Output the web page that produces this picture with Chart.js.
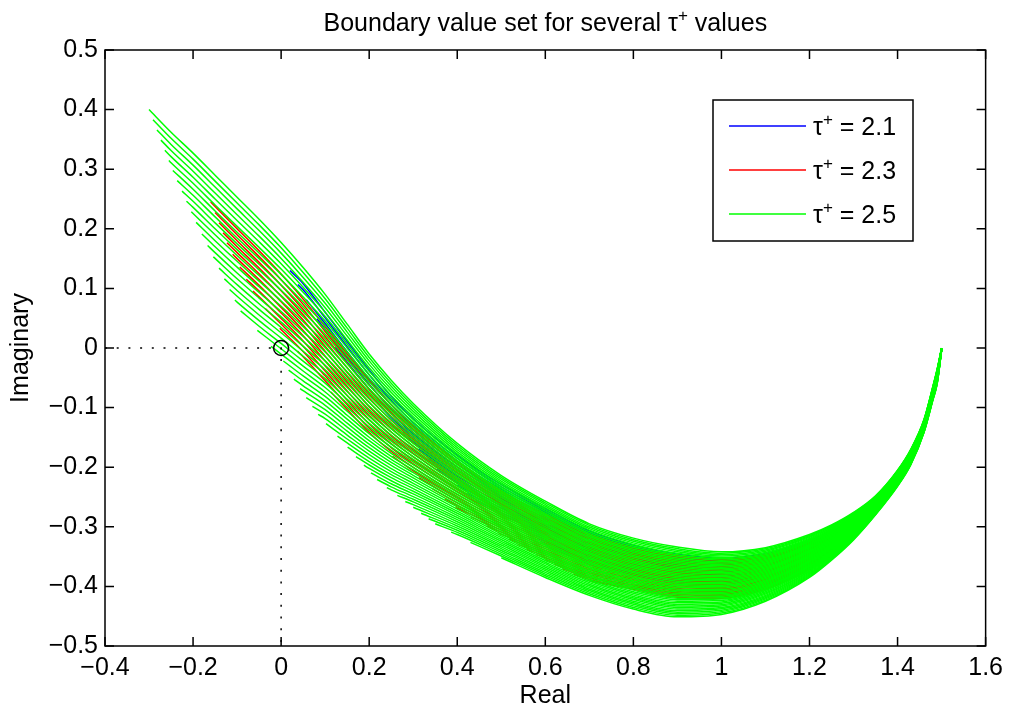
<!DOCTYPE html>
<html>
<head>
<meta charset="utf-8">
<script src="https://cdn.jsdelivr.net/npm/chart.js@4.4.0/dist/chart.umd.min.js"></script>
<style>
  html, body { margin: 0; padding: 0; background: #fff; }
  #wrap { width: 1010px; height: 713px; position: relative; }
</style>
</head>
<body>
<div id="wrap"><canvas id="myChart"></canvas></div>
<script>
// axis ticks
const xTicks = [-0.4, -0.2, 0, 0.2, 0.4, 0.6, 0.8, 1, 1.2, 1.4, 1.6];
const xTickLabels = ['\u22120.4', '\u22120.2', '0', '0.2', '0.4', '0.6', '0.8', '1', '1.2', '1.4', '1.6'];
const yTicks = [-0.5, -0.4, -0.3, -0.2, -0.1, 0, 0.1, 0.2, 0.3, 0.4, 0.5];
const yTickLabels = ['\u22120.5', '\u22120.4', '\u22120.3', '\u22120.2', '\u22120.1', '0', '0.1', '0.2', '0.3', '0.4', '0.5'];

// one set of curves per tau value
const tauValues = ['2.1', '2.3', '2.5'];
const tauColors = ['#0000ff', '#ff0000', '#00ff00'];
const curveCounts = [20, 30, 46];

// tau = 2.1 : first curve, last curve, and the edge where the curves begin
const blueX = [0.02, 0.05, 0.1, 0.15, 0.2, 0.25, 0.3, 0.4, 0.5, 0.6, 0.7, 0.8, 0.9, 1.0, 1.1, 1.2, 1.25, 1.3, 1.35, 1.4, 1.43, 1.46, 1.48, 1.49, 1.5];
const blueFirstY = [0.13, 0.108, 0.06, 0.011, -0.037, -0.081, -0.119, -0.18, -0.229, -0.269, -0.307, -0.331, -0.346, -0.352, -0.345, -0.323, -0.307, -0.285, -0.256, -0.211, -0.176, -0.125, -0.069, -0.038, -0.001];
const blueLastY = [-0.07, -0.087, -0.12, -0.154, -0.187, -0.216, -0.239, -0.275, -0.304, -0.331, -0.362, -0.381, -0.394, -0.397, -0.385, -0.355, -0.334, -0.306, -0.27, -0.221, -0.185, -0.133, -0.078, -0.048, -0.003];
const blueEdgeX = [0.02, 0.08, 0.15, 0.25, 0.35, 0.45, 0.55, 0.6];
const blueEdgeY = [0.13, 0.05, -0.03, -0.12, -0.2, -0.26, -0.3, -0.331];

// tau = 2.3
const redX = [-0.16, -0.1, -0.05, 0, 0.05, 0.1, 0.15, 0.2, 0.25, 0.3, 0.4, 0.5, 0.6, 0.7, 0.8, 0.9, 1.0, 1.1, 1.2, 1.25, 1.3, 1.35, 1.4, 1.43, 1.46, 1.48, 1.49, 1.5];
const redFirstY = [0.245, 0.2, 0.163, 0.124, 0.082, 0.036, -0.01, -0.055, -0.095, -0.13, -0.19, -0.24, -0.279, -0.313, -0.335, -0.348, -0.354, -0.347, -0.325, -0.309, -0.288, -0.259, -0.214, -0.178, -0.126, -0.07, -0.04, -0.001];
const redLastY = [-0.055, -0.09, -0.117, -0.146, -0.173, -0.204, -0.235, -0.265, -0.285, -0.3, -0.325, -0.345, -0.367, -0.391, -0.405, -0.418, -0.42, -0.405, -0.372, -0.348, -0.318, -0.278, -0.228, -0.192, -0.138, -0.083, -0.055, -0.003];
const redEdgeX = [-0.16, -0.12, -0.06, 0.02, 0.12, 0.25, 0.4, 0.55, 0.65, 0.7];
const redEdgeY = [0.245, 0.17, 0.09, 0.01, -0.08, -0.18, -0.27, -0.335, -0.375, -0.391];

// tau = 2.5
const greenX = [-0.3, -0.25, -0.2, -0.15, -0.1, -0.05, 0, 0.05, 0.1, 0.15, 0.2, 0.25, 0.3, 0.4, 0.5, 0.6, 0.7, 0.8, 0.9, 1.0, 1.1, 1.2, 1.25, 1.3, 1.35, 1.4, 1.43, 1.46, 1.48, 1.49, 1.5];
const greenFirstY = [0.4, 0.362, 0.327, 0.29, 0.253, 0.216, 0.177, 0.135, 0.09, 0.04, -0.01, -0.054, -0.093, -0.16, -0.214, -0.257, -0.295, -0.319, -0.334, -0.342, -0.335, -0.313, -0.297, -0.276, -0.248, -0.205, -0.17, -0.12, -0.065, -0.035, 0];
const greenLastY = [-0.06, -0.098, -0.128, -0.16, -0.187, -0.209, -0.224, -0.237, -0.245, -0.259, -0.272, -0.284, -0.294, -0.32, -0.352, -0.385, -0.415, -0.438, -0.451, -0.447, -0.425, -0.385, -0.356, -0.322, -0.28, -0.232, -0.196, -0.142, -0.088, -0.06, -0.004];
const greenEdgeX = [-0.3, -0.249, -0.193, -0.147, -0.094, 0.003, 0.034, 0.087, 0.223, 0.35, 0.45, 0.5];
const greenEdgeY = [0.4, 0.302, 0.21, 0.142, 0.064, -0.02, -0.059, -0.115, -0.225, -0.295, -0.334, -0.352];

// dotted guide through the origin and the marker on it
const guideX = [-0.4, 0, 0];
const guideY = [0, 0, -0.5];
const originX = [0];
const originY = [0];

const FONT = { family: 'Liberation Sans', size: 25 };

function lerpAt(xs, ys, x) {
  if (x <= xs[0]) return ys[0];
  for (let i = 1; i < xs.length; i++) {
    if (x <= xs[i]) {
      const f = (x - xs[i - 1]) / (xs[i] - xs[i - 1]);
      return ys[i - 1] + f * (ys[i] - ys[i - 1]);
    }
  }
  return ys[ys.length - 1];
}

// curves of one set: curve k lies a fraction s of the way from the first to the last
// curve and begins where it meets the start edge
function curveSet(xs, firstY, lastY, edgeX, edgeY, count) {
  const curves = [];
  const xEnd = edgeX[edgeX.length - 1];
  for (let k = 0; k < count; k++) {
    const s = k / (count - 1);
    const yAt = x => lerpAt(xs, firstY, x) * (1 - s) + lerpAt(xs, lastY, x) * s;
    let x0 = xs[0];
    for (let x = xs[0]; x <= xEnd + 1e-9; x += 0.001) {
      x0 = x;
      if (yAt(x) >= lerpAt(edgeX, edgeY, x) - 1e-9) break;
    }
    const pts = [{ x: x0, y: yAt(x0) }];
    xs.forEach((x, i) => {
      if (x > x0 + 0.004) pts.push({ x: x, y: firstY[i] * (1 - s) + lastY[i] * s });
    });
    curves.push(pts);
  }
  return curves;
}

const sets = [
  curveSet(blueX, blueFirstY, blueLastY, blueEdgeX, blueEdgeY, curveCounts[0]),
  curveSet(redX, redFirstY, redLastY, redEdgeX, redEdgeY, curveCounts[1]),
  curveSet(greenX, greenFirstY, greenLastY, greenEdgeX, greenEdgeY, curveCounts[2])
];

const datasets = [];
// green drawn over red, red over blue
sets.forEach((curves, si) => {
  curves.forEach(pts => {
    datasets.push({
      data: pts,
      showLine: true,
      borderColor: tauColors[si],
      borderWidth: 1.5,
      cubicInterpolationMode: 'monotone',
      pointRadius: 0,
      fill: false,
      order: 10 - si
    });
  });
});
datasets.push({
  data: guideX.map((x, i) => ({ x: x, y: guideY[i] })),
  showLine: true,
  borderColor: '#000',
  borderWidth: 1.5,
  borderDash: [2, 9.7],
  pointRadius: 0,
  order: 1
});
datasets.push({
  data: originX.map((x, i) => ({ x: x, y: originY[i] })),
  showLine: false,
  pointRadius: 7.5,
  pointBorderWidth: 1.5,
  pointBorderColor: '#000',
  pointBackgroundColor: 'rgba(0,0,0,0)',
  order: 0
});

// text with a raised "+" after tau
function drawTau(ctx, before, after, x, y, align) {
  const big = '25px "Liberation Sans"', small = '17px "Liberation Sans"';
  ctx.font = big;
  const w1 = ctx.measureText(before + '\u03c4').width;
  ctx.font = small;
  const w2 = ctx.measureText('+').width;
  ctx.font = big;
  const w3 = ctx.measureText(after).width;
  const x0 = align === 'center' ? x - (w1 + w2 + w3) / 2 : x;
  ctx.textAlign = 'left';
  ctx.textBaseline = 'alphabetic';
  ctx.fillStyle = '#000';
  ctx.fillText(before + '\u03c4', x0, y);
  ctx.font = small;
  ctx.fillText('+', x0 + w1, y - 10);
  ctx.font = big;
  ctx.fillText(after, x0 + w1 + w2, y);
}

const framePlugin = {
  id: 'frame',
  afterDraw(chart) {
    const ctx = chart.ctx;
    const a = chart.chartArea;
    const xs = chart.scales.x, ys = chart.scales.y;
    ctx.save();
    ctx.strokeStyle = '#000';
    ctx.lineWidth = 1.5;
    ctx.strokeRect(a.left, a.top, a.right - a.left, a.bottom - a.top);
    ctx.beginPath();
    xTicks.forEach(v => {
      const px = xs.getPixelForValue(v);
      ctx.moveTo(px, a.bottom); ctx.lineTo(px, a.bottom - 9);
      ctx.moveTo(px, a.top); ctx.lineTo(px, a.top + 9);
    });
    yTicks.forEach(v => {
      const py = ys.getPixelForValue(v);
      ctx.moveTo(a.left, py); ctx.lineTo(a.left + 9, py);
      ctx.moveTo(a.right, py); ctx.lineTo(a.right - 9, py);
    });
    ctx.stroke();

    // title
    drawTau(ctx, 'Boundary value set for several ', ' values', (a.left + a.right) / 2, 31, 'center');

    // legend box
    const bx = 713, by = 100, bw = 200, bh = 141;
    ctx.fillStyle = '#fff';
    ctx.fillRect(bx, by, bw, bh);
    ctx.lineWidth = 1.5;
    ctx.strokeStyle = '#000';
    ctx.strokeRect(bx, by, bw, bh);
    tauValues.forEach((t, i) => {
      const ly = 126 + i * 44;
      ctx.strokeStyle = tauColors[i];
      ctx.lineWidth = 1.3;
      ctx.beginPath();
      ctx.moveTo(729, ly); ctx.lineTo(806, ly);
      ctx.stroke();
      drawTau(ctx, '', ' = ' + t, 813, ly + 9, 'left');
    });
    ctx.restore();
  }
};

Chart.defaults.font.family = 'Liberation Sans';
Chart.defaults.color = '#000';

new Chart(document.getElementById('myChart'), {
  type: 'scatter',
  data: { datasets: datasets },
  options: {
    responsive: true,
    maintainAspectRatio: false,
    animation: false,
    devicePixelRatio: 1,
    layout: { padding: { top: 50, right: 22, left: 0, bottom: 0 } },
    plugins: { legend: { display: false }, tooltip: { enabled: false } },
    scales: {
      x: {
        type: 'linear', min: -0.4, max: 1.6,
        afterBuildTicks: s => { s.ticks = xTicks.map(v => ({ value: v })); },
        afterFit: s => { s.height = 67; },
        grid: { display: false, drawTicks: false },
        border: { display: false },
        ticks: { callback: (v, i) => xTickLabels[i], color: '#000', font: FONT, padding: 7, maxRotation: 0, autoSkip: false },
        title: { display: true, text: 'Real', color: '#000', font: FONT, padding: { top: 0, bottom: 2 } }
      },
      y: {
        type: 'linear', min: -0.5, max: 0.5,
        afterBuildTicks: s => { s.ticks = yTicks.map(v => ({ value: v })); },
        afterFit: s => { s.width = 105; },
        grid: { display: false, drawTicks: false },
        border: { display: false },
        ticks: { callback: (v, i) => yTickLabels[i], color: '#000', font: FONT, padding: 7, autoSkip: false },
        title: { display: true, text: 'Imaginary', color: '#000', font: FONT, padding: { top: 6, bottom: 0 } }
      }
    }
  },
  plugins: [framePlugin]
});
</script>
</body>
</html>
